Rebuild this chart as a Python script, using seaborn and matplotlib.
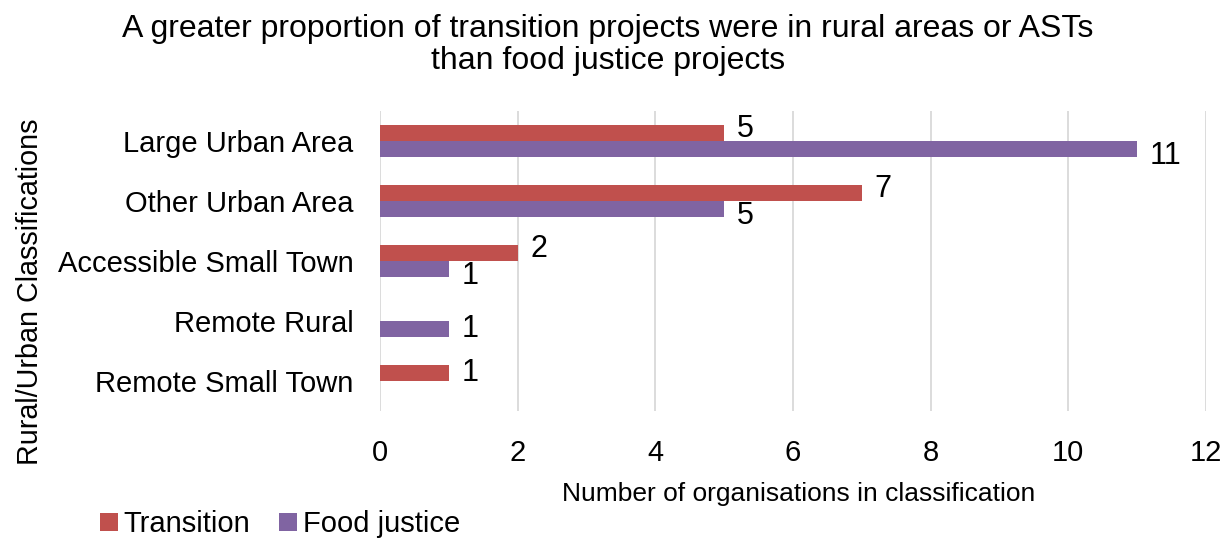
import matplotlib
matplotlib.use("Agg")
import matplotlib.pyplot as plt
import seaborn as sns
import pandas as pd

categories = ["Large Urban Area", "Other Urban Area", "Accessible Small Town",
              "Remote Rural", "Remote Small Town"]
transition = [5, 7, 2, 0, 1]
food_justice = [11, 5, 1, 1, 0]
series_names = ["Transition", "Food justice"]
colors = ["#C0504D", "#8064A2"]
x_ticks = [0, 2, 4, 6, 8, 10, 12]

sns.set_theme(style="white")
plt.rcParams['font.family'] = ['Liberation Sans', 'DejaVu Sans']
plt.rcParams['text.color'] = 'black'
plt.rcParams['xtick.color'] = 'black'
plt.rcParams['ytick.color'] = 'black'
plt.rcParams['axes.labelcolor'] = 'black'
FS = 21

df = pd.DataFrame({
    "category": categories * 2,
    "value": transition + food_justice,
    "series": [series_names[0]] * len(categories) + [series_names[1]] * len(categories),
})

fig = plt.figure(figsize=(12.31, 5.40), dpi=100)
ax = fig.add_axes([380 / 1231, 1 - 411 / 540, (1206 - 380) / 1231, 300 / 540])

sns.barplot(data=df, y="category", x="value", hue="series", order=categories,
            hue_order=series_names, palette=colors, orient="h", width=0.533,
            gap=0, saturation=1, ax=ax, legend=False, linewidth=0)

ax.set_xlim(0, 12)
ax.set_xticks(x_ticks)
ax.set_xticklabels([str(t) for t in x_ticks], fontsize=FS)
ax.tick_params(axis="y", labelsize=FS, length=0, pad=19)
ax.tick_params(axis="x", length=0, pad=20)
ax.grid(axis="x", color="#D9D9D9", linewidth=1.3)
ax.set_axisbelow(True)
for s in ax.spines.values():
    s.set_visible(False)
ax.set_ylabel("")
ax.set_xlabel("Number of organisations in classification", fontsize=19, labelpad=14)
ax.xaxis.set_label_coords(0.507, -0.235)

for si, cont in enumerate(ax.containers):
    for ci, bar in enumerate(cont):
        w = bar.get_width()
        if w == 0:
            continue
        both = transition[ci] > 0 and food_justice[ci] > 0
        dy = 0
        if both:
            dy = 3 if si == 0 else -5
        ax.annotate(f"{int(w)}", (w, bar.get_y() + bar.get_height() / 2),
                    xytext=(9, dy), textcoords="offset points",
                    ha="left", va="center", fontsize=22, color="black")

fig.text(0.494, 0.975, "A greater proportion of transition projects were in rural areas or ASTs\nthan food justice projects",
         ha="center", va="top", fontsize=23, linespacing=1.1)
fig.text(0.024, 0.46, "Rural/Urban Classifications", rotation=90, ha="center", va="center", fontsize=20.7)

from matplotlib.patches import Patch
handles = [Patch(facecolor=c, edgecolor="none") for c in colors]
fig.legend(handles, series_names, loc="lower left", bbox_to_anchor=(0.06, -0.045),
           ncol=2, frameon=False, fontsize=FS, handlelength=0.6, handleheight=0.6,
           handletextpad=0.2, columnspacing=1.0)

fig.savefig("out.png", dpi=100)
